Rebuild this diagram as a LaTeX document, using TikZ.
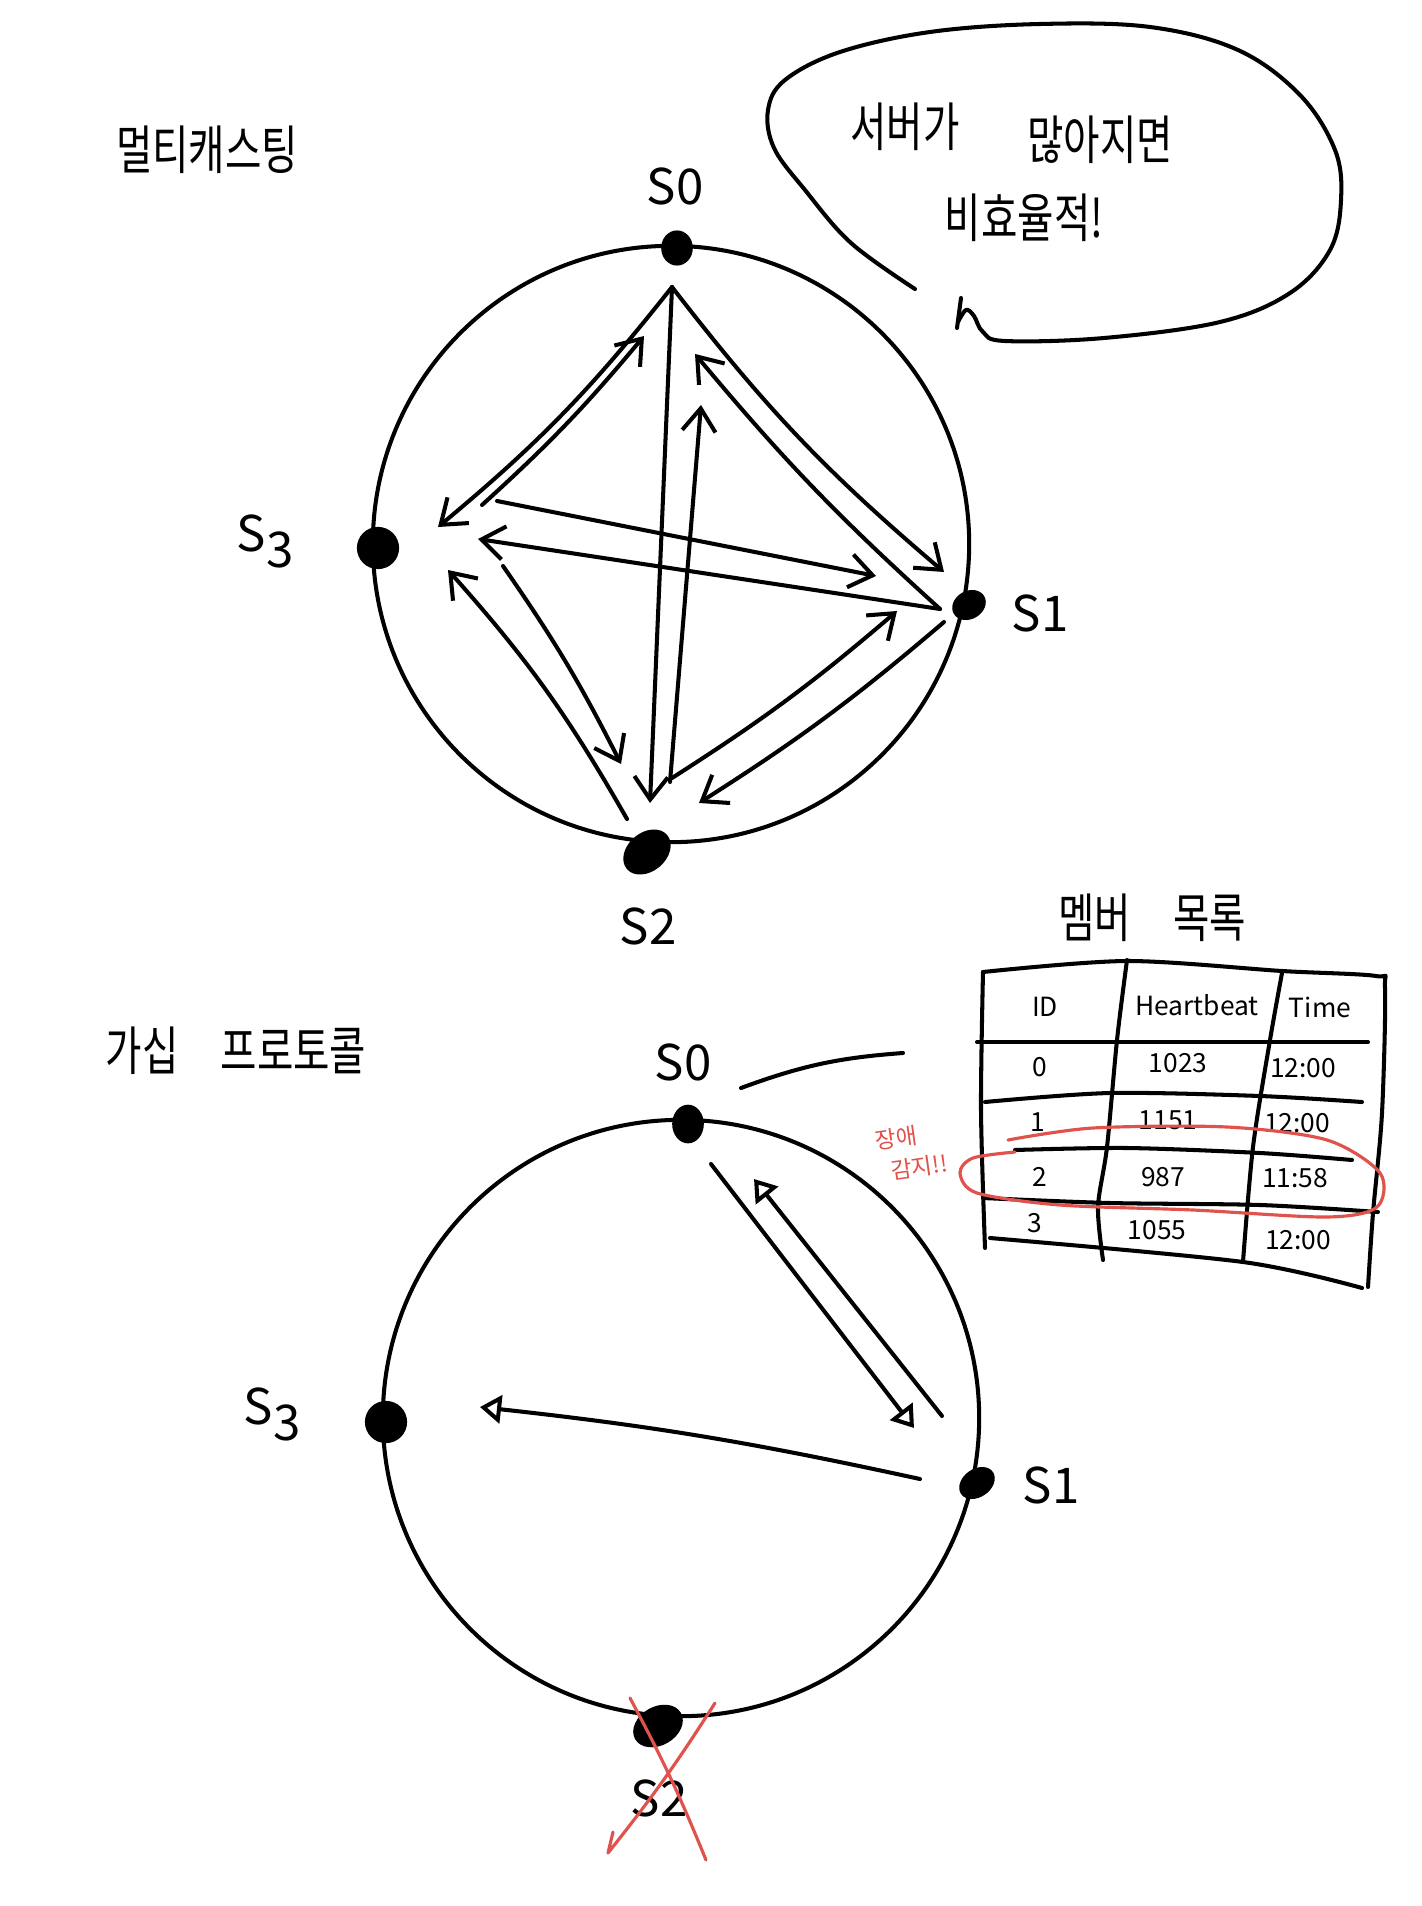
\documentclass[tikz,border=0pt]{standalone}
\usepackage{fontspec}
\setmainfont{Noto Sans CJK KR}
\newfontfamily\hand{Noto Sans CJK KR}[FakeStretch=0.75]
\usetikzlibrary{arrows.meta,shapes.geometric}
\definecolor{alarm}{RGB}{224,82,76}

\begin{document}
\begin{tikzpicture}[line cap=round,line join=round,x=0.01cm,y=-0.01cm,
    srv/.style={ellipse, fill=black, inner sep=0pt},
    lbl/.style={font=\fontsize{14}{14}\selectfont, inner sep=0pt},
    ttl/.style={font=\hand\fontsize{15}{15}\selectfont, inner sep=0pt},
    cell/.style={font=\fontsize{7.5}{7.5}\selectfont, inner sep=0pt},
    ink/.style={line width=1.15pt},
    msg/.style={line width=1.15pt, -{Straight Barb[length=6.5pt,width=9.5pt]}},
    gsp/.style={line width=1.15pt, -{Triangle[open,length=6pt,width=8pt]}}]
      \useasboundingbox (0,0) rectangle (1422,1906);

      % titles
      \node[ttl] (tmc) at (207,150) {멀티캐스팅};
      \node[ttl] (tgs) at (236,1051) {가십\hspace{0.8em}프로토콜};
      \node[ttl] (tml) at (1152,918) {멤버\hspace{0.8em}목록};

      % speech bubble
      \draw[ink] plot[smooth, tension=0.6] coordinates {(915,289) (851,243) (805,190) (774,148) (768,110) (785,80) (840,52) (930,32) (1040,24) (1150,27) (1238,50) (1300,95) (1335,150) (1341,200) (1330,250) (1290,293) (1220,322) (1104,338) (1005,341) (983,332) (974,316) (966,310) (958,322)};
      \draw[ink] (961,298) -- (957,328);
      \node[ttl] (bubA) at (905,127) {서버가};
      \node[ttl] (bubB) at (1100,140) {많아지면};
      \node[ttl] (bubC) at (1024,218) {비효율적!};

      % multicast ring
      \draw[ink] (671,544) circle (2.98cm);
      \node[srv, minimum width=9pt, minimum height=10pt] (ts0) at (677,248) {};
      \node[srv, minimum width=12pt, minimum height=12pt] (ts3) at (378,548) {};
      \node[srv, minimum width=10pt, minimum height=8pt, rotate=30] (ts1) at (969,605) {};
      \node[srv, minimum width=15pt, minimum height=11pt, rotate=40] (ts2) at (647,852) {};
      \node[lbl] (lts0) at (675,186) {S0};
      \node[lbl] (lts3) at (265,541) {S\raisebox{-0.6ex}{3}};
      \node[lbl] (lts1) at (1040,613) {S1};
      \node[lbl] (lts2) at (648,926) {S2};

      % message ends
      \coordinate (t0) at (672,287);
      \coordinate (t0a) at (644,336);
      \coordinate (t0b) at (701,405);
      \coordinate (t0c) at (695,354);
      \coordinate (t1) at (940,609);
      \coordinate (t1a) at (944,572);
      \coordinate (t1b) at (876,576);
      \coordinate (t1c) at (897,611);
      \coordinate (t1d) at (944,622);
      \coordinate (t2a) at (650,803);
      \coordinate (t2b) at (670,782);
      \coordinate (t2c) at (621,764);
      \coordinate (t2d) at (627,819);
      \coordinate (t2e) at (672,778);
      \coordinate (t2f) at (699,803);
      \coordinate (t3a) at (438,527);
      \coordinate (t3b) at (482,505);
      \coordinate (t3c) at (497,501);
      \coordinate (t3d) at (478,539);
      \coordinate (t3e) at (503,566);
      \coordinate (t3f) at (448,570);

      % S0 -> all
      \draw[msg] (t0) to[bend left=6] (t3a);
      \draw[msg] (t0) -- (t2a);
      \draw[msg] (t0) to[bend right=6] (t1a);
      % S1 -> all
      \draw[msg] (t1) to[bend left=4] (t0c);
      \draw[msg] (t1) -- (t3d);
      \draw[msg] (t1d) to[bend left=4] (t2f);
      % S2 -> all
      \draw[msg] (t2b) -- (t0b);
      \draw[msg] (t2d) to[bend right=6] (t3f);
      \draw[msg] (t2e) to[bend right=4] (t1c);
      % S3 -> all
      \draw[msg] (t3b) to[bend right=4] (t0a);
      \draw[msg] (t3c) -- (t1b);
      \draw[msg] (t3e) to[bend left=4] (t2c);

      % gossip ring
      \draw[ink] (681,1418) circle (2.98cm);
      \node[srv, minimum width=9pt, minimum height=11pt] (bs0) at (688,1124) {};
      \node[srv, minimum width=12pt, minimum height=12pt] (bs3) at (386,1422) {};
      \node[srv, minimum width=11pt, minimum height=8pt, rotate=35] (bs1) at (977,1483) {};
      \node[srv, minimum width=15pt, minimum height=11pt, rotate=30] (bs2) at (658,1726) {};
      \node[lbl] (lbs0) at (683,1062) {S0};
      \node[lbl] (lbs3) at (272,1414) {S\raisebox{-0.6ex}{3}};
      \node[lbl] (lbs1) at (1051,1485) {S1};
      \node[lbl] (lbs2) at (659,1798) {S2};

      \coordinate (b0a) at (711,1164);
      \coordinate (b0b) at (754,1179);
      \coordinate (b1a) at (914,1428);
      \coordinate (b1b) at (942,1416);
      \coordinate (b1c) at (920,1479);
      \coordinate (b3a) at (480,1407);
      \draw[gsp] (b0a) -- (b1a);
      \draw[gsp] (b1b) -- (b0b);
      \draw[gsp] (b1c) to[bend right=3] (b3a);

      % S2 down
      \draw[alarm, line width=0.9pt] (630,1698) to[bend left=3] (706,1860);
      \draw[alarm, line width=0.9pt] (715,1703) to[bend left=3] (608,1853) -- (613,1832);

      % link to member list
      \coordinate (lnA) at (741,1088);
      \coordinate (lnB) at (903,1053);
      \draw[ink] (lnA) to[bend left=8] (lnB);

      % member table
      \draw[ink] plot[smooth] coordinates {(983,972) (981,1110) (985,1248)};
      \draw[ink] plot[smooth] coordinates {(983,972) (1127,961) (1282,971) (1376,976) (1385,988) (1382,1113) (1373,1213) (1368,1287)};
      \draw[ink] plot[smooth] coordinates {(990,1238) (1243,1262) (1362,1288)};
      \draw[ink] plot[smooth] coordinates {(1127,960) (1117,1040) (1107,1147) (1098,1207) (1103,1260)};
      \draw[ink] plot[smooth] coordinates {(1282,973) (1270,1040) (1253,1147) (1243,1262)};
      \draw[ink] (977,1042) -- (1368,1042);
      \draw[ink] plot[smooth] coordinates {(985,1102) (1110,1093) (1260,1096) (1362,1102)};
      \draw[ink] plot[smooth] coordinates {(1015,1150) (1127,1148) (1260,1153) (1352,1160)};
      \draw[ink] plot[smooth] coordinates {(983,1198) (1110,1203) (1260,1205) (1378,1212)};
      \foreach \n/\x/\y/\t in {cid/1045/1007/ID, chb/1197/1005/Heartbeat, ctm/1320/1007/Time,
          c0a/1040/1067/0, c0b/1178/1063/1023, c0c/1303/1068/12:00,
          c1a/1038/1122/1, c1b/1168/1120/1151, c1c/1297/1123/12:00,
          c2a/1040/1177/2, c2b/1163/1177/987, c2c/1295/1178/11:58,
          c3a/1035/1223/3, c3b/1157/1230/1055, c3c/1298/1240/12:00}
        \node[cell] (\n) at (\x,\y) {\t};

      % failure detected
      \draw[alarm, line width=0.9pt] plot[smooth] coordinates {(1008,1140) (1093,1128) (1227,1127) (1327,1140) (1380,1173) (1377,1207) (1327,1217) (1193,1210) (1060,1205) (977,1193) (960,1173) (973,1158) (1015,1152)};
      \node[alarm, font=\fontsize{6.5}{6.5}\selectfont, inner sep=0pt, rotate=8] (al1) at (896,1138) {장애};
      \node[alarm, font=\fontsize{6.5}{6.5}\selectfont, inner sep=0pt, rotate=8] (al2) at (919,1167) {감지!!};

\end{tikzpicture}
\end{document}
